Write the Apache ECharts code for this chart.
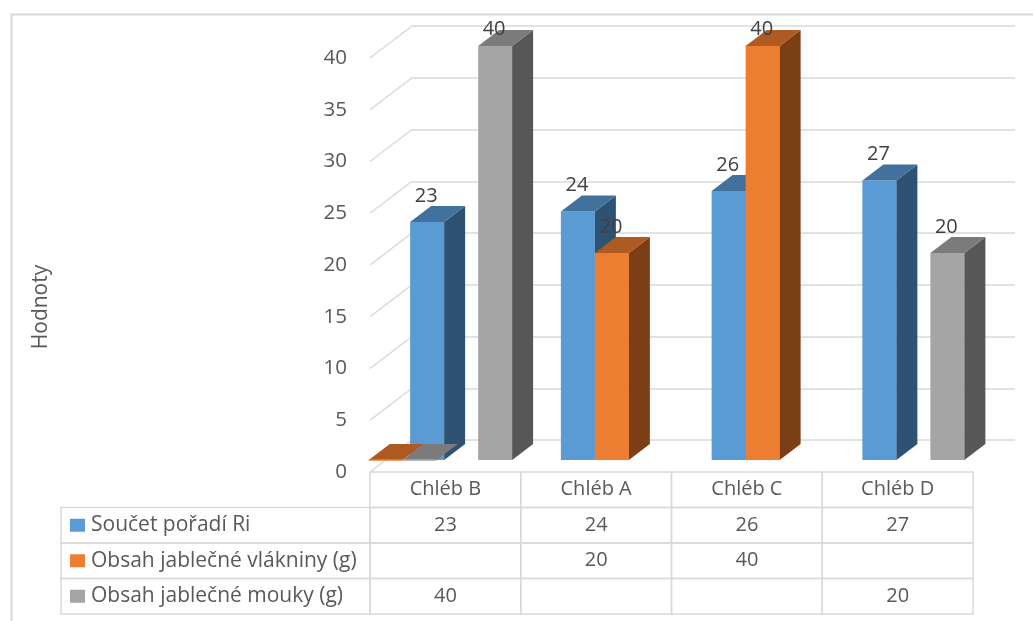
<!DOCTYPE html>
<html>
<head>
<meta charset="utf-8">
<script src="https://cdn.jsdelivr.net/npm/echarts@6/dist/echarts.min.js"></script>
<style>
  html, body { margin: 0; padding: 0; background: #ffffff; }
  #chart { width: 1033px; height: 621px; }
</style>
</head>
<body>
<div id="chart"></div>
<script>
// Categories and series values
const categories = ['Chléb B', 'Chléb A', 'Chléb C', 'Chléb D'];
const seriesNames = ['Součet pořadí Ri', 'Obsah jablečné vlákniny (g)', 'Obsah jablečné mouky (g)'];
const soucetPoradi = [23, 24, 26, 27];
const obsahVlakniny = [null, 20, 40, null];
const obsahMouky = [40, null, null, 20];
const seriesValues = [soucetPoradi, obsahVlakniny, obsahMouky];
const yTicks = [0, 5, 10, 15, 20, 25, 30, 35, 40];

// Face colours for each series: front, side, top
const faceColors = [
  { front: '#5B9BD5', side: '#2E5273', top: '#41719C' },
  { front: '#ED7D31', side: '#7C3E14', top: '#AE5A21' },
  { front: '#A5A5A5', side: '#575757', top: '#7B7B7B' }
];

const FONT = '"Open Sans", "DejaVu Sans", sans-serif';
const TEXT = '#595959';
const LINE = '#D9D9D9';

// Oblique projection of the floor depth
const DEPTH_X = 42, DEPTH_Y = 32;
const BAR_DX = DEPTH_X * 0.5, BAR_DY = DEPTH_Y * 0.5;   // bar depth
const SLOT = 0.2255;                                    // bar width as share of a category
const ROW_H = 35.5;                                     // data table row height
const LEGEND_COL_W = 309;                               // data table legend column width

const chart = echarts.init(document.getElementById('chart'), null, { renderer: 'canvas' });

function valueAxis(gridIndex, extra) {
  return Object.assign({
    type: 'value', gridIndex, min: 0, max: 40, interval: 5,
    axisLine: { show: false }, axisTick: { show: false },
    axisLabel: { show: false }, splitLine: { show: false }
  }, extra || {});
}
function catAxis(gridIndex) {
  return {
    type: 'category', gridIndex, data: categories, boundaryGap: true,
    axisLine: { show: false }, axisTick: { show: false }, axisLabel: { show: false },
    splitLine: { show: false }
  };
}

// Side wall grid lines (front plane to back plane)
function renderSideLine(params, api) {
  const cw = api.size([1, 0])[0];
  const p = api.coord([0, api.value(1)]);
  const x = p[0] - cw / 2;
  return {
    type: 'line', silent: true,
    shape: { x1: x, y1: p[1], x2: x + DEPTH_X, y2: p[1] - DEPTH_Y },
    style: { stroke: LINE, lineWidth: 1.5 }
  };
}

function flatTile(x, y, w, col) {
  return [
    { type: 'polygon',
      shape: { points: [[x, y], [x + w, y], [x + w + BAR_DX, y - BAR_DY], [x + BAR_DX, y - BAR_DY]] },
      style: { fill: col.top } },
    { type: 'line', shape: { x1: x, y1: y, x2: x + w, y2: y },
      style: { stroke: col.front, lineWidth: 1.5 } }
  ];
}

function makeBarRenderer(s) {
  return function (params, api) {
    const i = api.value(0);
    const raw = seriesValues[s][i];
    const cw = api.size([1, 0])[0];
    const w = cw * SLOT;
    const base = api.coord([i, 0]);
    const col = faceColors[s];
    const x0 = base[0] - 1.5 * w + s * w;
    const y0 = base[1];
    let children = [];
    if (raw != null) {
      const yt = api.coord([i, raw])[1];
      children.push({
        type: 'rect',
        shape: { x: x0, y: yt, width: w, height: y0 - yt },
        style: { fill: col.front }
      });
      children.push({
        type: 'polygon',
        shape: { points: [[x0 + w, yt], [x0 + w + BAR_DX, yt - BAR_DY], [x0 + w + BAR_DX, y0 - BAR_DY], [x0 + w, y0]] },
        style: { fill: col.side }
      });
      children.push({
        type: 'polygon',
        shape: { points: [[x0, yt], [x0 + w, yt], [x0 + w + BAR_DX, yt - BAR_DY], [x0 + BAR_DX, yt - BAR_DY]] },
        style: { fill: col.top }
      });
      children.push({
        type: 'text', z2: 10,
        style: {
          text: String(raw), x: x0 + w / 2 - 1, y: Math.max(yt - 26, 29),
          align: 'center', verticalAlign: 'middle',
          font: '20px ' + FONT, fill: '#404040'
        }
      });
    }
    // the first column also carries flat floor tiles for the 2nd and 3rd series,
    // half a column to the left
    if (i === 0 && s > 0) {
      children = children.concat(flatTile(x0 - cw / 2, y0, w, col));
    }
    return { type: 'group', children };
  };
}

// Data table: category header plus one row per series
function renderTableColumn(params, api) {
  const i = api.value(0);
  const cw = api.size([1, 0])[0];
  const p = api.coord([i, 0]);
  const x = p[0] - cw / 2;
  const y = p[1];
  const children = [];
  for (let r = 0; r < 4; r++) {
    children.push({
      type: 'rect',
      shape: { x: x, y: y + r * ROW_H, width: cw, height: ROW_H },
      style: { fill: 'none', stroke: LINE, lineWidth: 1.5 }
    });
  }
  children.push({
    type: 'text',
    style: { text: categories[i], x: p[0], y: y + ROW_H / 2, align: 'center', verticalAlign: 'middle',
             font: '20px ' + FONT, fill: TEXT }
  });
  seriesValues.forEach(function (vals, s) {
    if (vals[i] == null) return;
    children.push({
      type: 'text',
      style: { text: String(vals[i]), x: p[0], y: y + (s + 1.5) * ROW_H, align: 'center', verticalAlign: 'middle',
               font: '20px ' + FONT, fill: TEXT }
    });
  });
  return { type: 'group', children };
}

function renderLegendRow(params, api) {
  const s = params.dataIndex;
  const cw = api.size([1, 0])[0];
  const p = api.coord([0, 0]);
  const right = p[0] - cw / 2;
  const x = right - LEGEND_COL_W;
  const y = p[1] + (s + 1) * ROW_H;
  return {
    type: 'group',
    children: [
      { type: 'rect', shape: { x: x, y: y, width: LEGEND_COL_W, height: ROW_H },
        style: { fill: 'none', stroke: LINE, lineWidth: 1.5 } },
      { type: 'rect', shape: { x: x + 9, y: y + ROW_H / 2 - 6.5, width: 15, height: 13 },
        style: { fill: faceColors[s].front } },
      { type: 'text', style: { text: seriesNames[s], x: x + 30, y: y + ROW_H / 2, align: 'left', verticalAlign: 'middle',
        font: '21px ' + FONT, fill: TEXT } }
    ]
  };
}

const option = {
  backgroundColor: '#ffffff',
  animation: false,
  grid: [
    // front plane (axis labels, side wall edges, data table)
    { left: 370, right: 60, top: 58, bottom: 149 },
    // plane of the bar fronts
    { left: 385.75, right: 44.25, top: 46, bottom: 161 },
    // back wall
    { left: 412, right: 18, top: 26, bottom: 181 }
  ],
  xAxis: [catAxis(0), catAxis(1), catAxis(2)],
  yAxis: [
    valueAxis(0, {
      axisLabel: { show: true, margin: 23, color: TEXT, fontSize: 20.5, fontFamily: FONT,
                   padding: [6, 0, 0, 0] }
    }),
    valueAxis(1),
    valueAxis(2, { splitLine: { show: true, lineStyle: { color: LINE, width: 1.5 } } })
  ],
  graphic: [
    { type: 'rect', left: 9, top: 12, shape: { width: 1100, height: 700 },
      style: { fill: 'none', stroke: LINE, lineWidth: 2 }, silent: true, z: -1 },
    { type: 'text', x: 41, y: 307, rotation: Math.PI / 2,
      style: { text: 'Hodnoty', align: 'center', verticalAlign: 'middle', font: '21px ' + FONT, fill: TEXT } }
  ],
  series: [
    { type: 'custom', name: 'side-walls', xAxisIndex: 0, yAxisIndex: 0,
      data: yTicks.map(function (v) { return [0, v]; }), renderItem: renderSideLine, silent: true, z: 1 },
    { type: 'custom', name: 'table', xAxisIndex: 0, yAxisIndex: 0,
      data: categories.map(function (c, i) { return [i, 0]; }), renderItem: renderTableColumn, silent: true, z: 1 },
    { type: 'custom', name: 'table-legend', xAxisIndex: 0, yAxisIndex: 0,
      data: seriesNames.map(function (n, s) { return [0, s]; }), renderItem: renderLegendRow, silent: true, z: 1 }
  ].concat(seriesValues.map(function (vals, s) {
    return {
      type: 'custom', name: seriesNames[s], xAxisIndex: 1, yAxisIndex: 1, z: 2 + s,
      data: vals.map(function (v, i) { return [i, v == null ? 0 : v]; }),
      renderItem: makeBarRenderer(s)
    };
  }))
};

chart.setOption(option);
</script>
</body>
</html>
